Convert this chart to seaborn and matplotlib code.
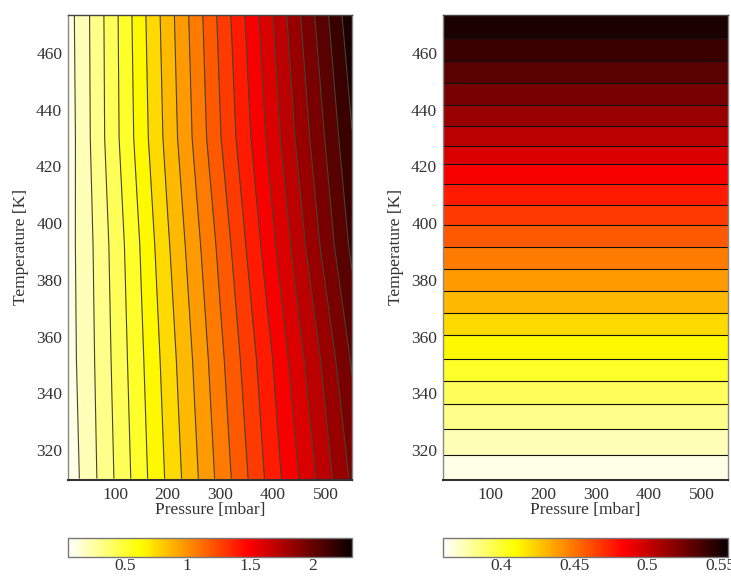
import numpy as np
import matplotlib
matplotlib.use("Agg")
import matplotlib.pyplot as plt
import matplotlib.colors as mcolors
import matplotlib.cm as cm
import seaborn as sns

# ---------------- data ----------------
pressure = [10, 50, 100, 150, 200, 250, 300, 350, 400, 450, 500, 550]      # mbar
temperature = [310, 352, 392, 430, 473]                                    # K
value_T310 = [0.083, 0.210, 0.377, 0.546, 0.714, 0.882, 1.057, 1.226, 1.400, 1.563, 1.732, 1.904]
value_T352 = [0.104, 0.223, 0.396, 0.570, 0.745, 0.921, 1.101, 1.278, 1.454, 1.637, 1.810, 2.006]
value_T392 = [0.108, 0.232, 0.412, 0.597, 0.788, 0.972, 1.158, 1.349, 1.540, 1.730, 1.927, 2.126]
value_T430 = [0.097, 0.250, 0.448, 0.643, 0.838, 1.033, 1.230, 1.421, 1.613, 1.809, 2.000, 2.203]
value_T473 = [0.106, 0.255, 0.454, 0.660, 0.860, 1.059, 1.263, 1.465, 1.668, 1.874, 2.077, 2.289]

pressure_right = [10, 550]
temperature_right = [310, 320, 330, 340, 350, 360, 370, 380, 390, 400,
                     410, 420, 430, 440, 450, 460, 470, 473]
value_right = [0.360, 0.371, 0.381, 0.392, 0.404, 0.415, 0.427, 0.439, 0.451, 0.463,
               0.476, 0.489, 0.503, 0.516, 0.528, 0.540, 0.551, 0.555]

x_ticks = [100, 200, 300, 400, 500]
y_ticks = [320, 340, 360, 380, 400, 420, 440, 460]
cbar_ticks_left = [0.5, 1, 1.5, 2]
cbar_ticks_right = [0.4, 0.45, 0.5, 0.55]
cbar_labels_left = ["0.5", "1", "1.5", "2"]
cbar_labels_right = ["0.4", "0.45", "0.5", "0.55"]

# ---------------- style ----------------
sns.set_style("white")
plt.rcParams["font.family"] = ["Liberation Serif", "DejaVu Serif"]
txt = "#333333"
fs = 12.5

cmap = sns.color_palette("hot_r", as_cmap=True)

Z_left = np.array([value_T310, value_T352, value_T392, value_T430, value_T473])
Z_right = np.repeat(np.array(value_right)[:, None], len(pressure_right), axis=1)

vmin_l, vmax_l = 0.045, 2.317
vmin_r, vmax_r = 0.36, 0.555
levels_l = np.linspace(vmin_l, vmax_l, 22)
levels_r = np.linspace(vmin_r, vmax_r, 22)

fig = plt.figure(figsize=(7.31, 5.79), dpi=100)
W, H = 731, 579

def ax_rect(x0, x1, ytop, ybot):
    return [x0 / W, 1 - ybot / H, (x1 - x0) / W, (ybot - ytop) / H]

axL = fig.add_axes(ax_rect(67.7, 352, 14.5, 480))
axR = fig.add_axes(ax_rect(442.7, 728, 14.5, 480))
caxL = fig.add_axes(ax_rect(67.7, 352, 538, 557))
caxR = fig.add_axes(ax_rect(442.7, 728, 538, 557))

panels = [
    (axL, caxL, pressure, temperature, Z_left, levels_l, vmin_l, vmax_l,
     cbar_ticks_left, cbar_labels_left, "#444433"),
    (axR, caxR, pressure_right, temperature_right, Z_right, levels_r, vmin_r, vmax_r,
     cbar_ticks_right, cbar_labels_right, "#111111"),
]

for ax, cax, P, T, Z, lev, vmin, vmax, cticks, clabels, lc in panels:
    norm = mcolors.Normalize(vmin=vmin, vmax=vmax)
    ax.contourf(P, T, Z, levels=lev, cmap=cmap, norm=norm, extend="both")
    ax.contour(P, T, Z, levels=lev[1:-1], colors=lc, linewidths=0.8)
    ax.set_xlim(10, 550)
    ax.set_ylim(309.5, 473.5)
    ax.set_xticks(x_ticks)
    ax.set_yticks(y_ticks)
    ax.tick_params(axis="both", labelsize=fs, colors=txt, length=3, width=0.8)
    ax.tick_params(axis="x", direction="in", pad=5)
    ax.tick_params(axis="y", direction="out", pad=1)
    ax.set_xlabel("Pressure [mbar]", fontsize=fs, color=txt, labelpad=-1)
    ax.set_ylabel("Temperature [K]", fontsize=fs, color=txt, labelpad=5)
    for name, sp in ax.spines.items():
        sp.set_visible(True)
        sp.set_color("#888888")
        sp.set_linewidth(1.0)
    ax.spines["bottom"].set_color("#333333")
    ax.spines["bottom"].set_linewidth(1.5)
    ax.spines["top"].set_color("#444444")

    sm = cm.ScalarMappable(norm=norm, cmap=cmap)
    cb = fig.colorbar(sm, cax=cax, orientation="horizontal")
    cb.set_ticks(cticks)
    cb.set_ticklabels(clabels)
    cb.outline.set_edgecolor("#777777")
    cb.outline.set_linewidth(1.0)
    cax.tick_params(labelsize=fs, colors=txt, length=3, direction="in", pad=1)

fig.savefig("out.png", dpi=100)
